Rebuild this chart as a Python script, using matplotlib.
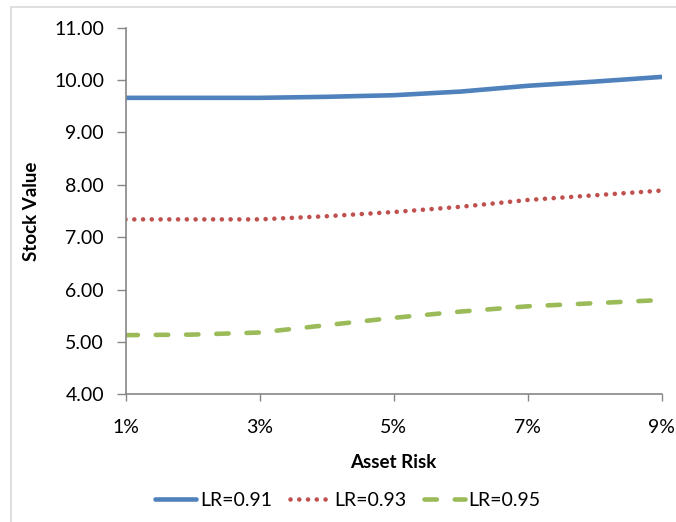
import matplotlib
matplotlib.use("Agg")
import matplotlib.pyplot as plt
from matplotlib.patches import Rectangle

plt.rcParams["font.family"] = ["Lato", "DejaVu Sans"]

# asset risk (%) and stock value per leverage ratio
risk = [1, 2, 3, 4, 5, 6, 7, 8, 9]
tick_risk = [1, 3, 5, 7, 9]
lr_091 = [9.66, 9.66, 9.66, 9.68, 9.71, 9.78, 9.89, 9.97, 10.06]
lr_093 = [7.34, 7.34, 7.34, 7.40, 7.48, 7.58, 7.71, 7.80, 7.89]
lr_095 = [5.13, 5.14, 5.18, 5.32, 5.46, 5.58, 5.68, 5.74, 5.80]
y_ticks = [4, 5, 6, 7, 8, 9, 10, 11]

fig = plt.figure(figsize=(6.76, 5.22), dpi=100)
ax = fig.add_axes([0.1857, 0.2446, 0.793, 0.7024])

ax.plot(risk, lr_091, color="#4F81BD", lw=3.3, solid_capstyle="round", label="LR=0.91")
ax.plot(risk, lr_093, color="#C0504D", lw=3.3, linestyle=(0, (0.01, 1.9)),
        dash_capstyle="round", label="LR=0.93")
ax.plot(risk, lr_095, color="#9BBB59", lw=3.3, linestyle=(0, (2.7, 3.9)),
        dash_capstyle="round", label="LR=0.95")

ax.set_xlim(1, 9)
ax.set_ylim(4, 11)
ax.set_xticks(tick_risk)
ax.set_xticklabels([f"{v}%" for v in tick_risk])
ax.set_yticks(y_ticks)
ax.set_yticklabels([f"{v:.2f}" for v in y_ticks])
ax.tick_params(axis="both", labelsize=14, color="#868686", width=1)
ax.tick_params(axis="x", length=5, pad=13)
ax.tick_params(axis="y", length=6.5, pad=9)

for side in ["top", "right"]:
    ax.spines[side].set_visible(False)
for side in ["left", "bottom"]:
    ax.spines[side].set_color("#868686")
    ax.spines[side].set_linewidth(1.2)

ax.set_xlabel("Asset Risk", fontsize=13.5, fontweight="bold", labelpad=13)
ax.set_ylabel("Stock Value", fontsize=13.5, fontweight="bold", labelpad=10)

ax.legend(loc="center", bbox_to_anchor=(0.515, 0.041), bbox_transform=fig.transFigure,
          ncol=3, frameon=False, fontsize=14, handlelength=2.1, handletextpad=0.2,
          columnspacing=0.9)

# chart area border
fig.patches.append(Rectangle((11 / 676, -0.01), 1.0, 1 - 7 / 522 + 0.01,
                             transform=fig.transFigure, fill=False,
                             edgecolor="#D9D9D9", lw=1.2))

fig.savefig("out.png", dpi=100)
